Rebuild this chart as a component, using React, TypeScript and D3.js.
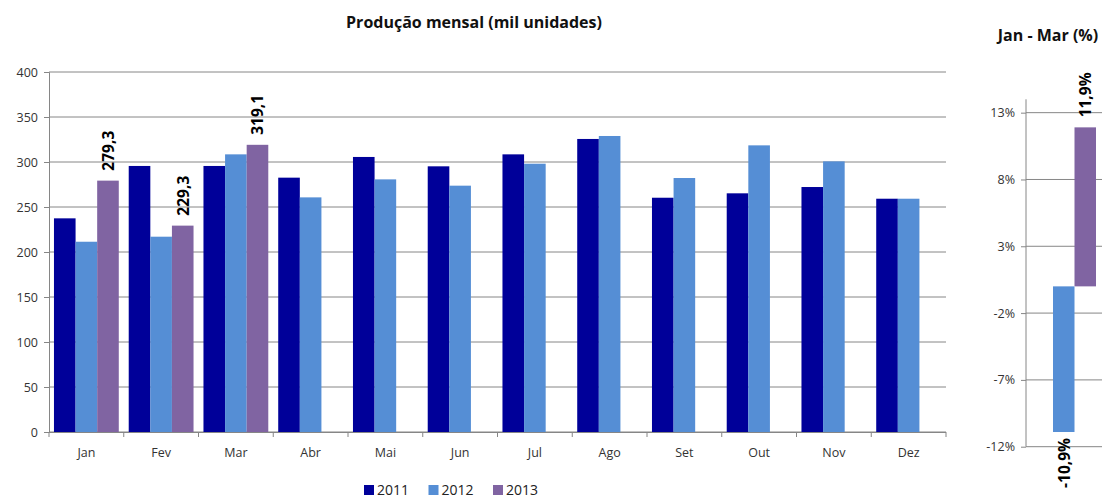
import * as d3 from "d3";
import { useEffect, useRef } from "react";

// monthly production (thousand units)
const months = ["Jan", "Fev", "Mar", "Abr", "Mai", "Jun", "Jul", "Ago", "Set", "Out", "Nov", "Dez"];
const years = ["2011", "2012", "2013"];
const prod2011 = [237.4, 295.6, 295.6, 282.6, 305.6, 295.2, 308.5, 325.6, 260.3, 265.2, 272.2, 259.2];
const prod2012 = [211.4, 217.0, 308.5, 260.7, 280.7, 273.7, 298.1, 328.9, 282.2, 318.5, 300.7, 259.2];
const prod2013 = [279.3, 229.3, 319.1];
const yTicks = [0, 50, 100, 150, 200, 250, 300, 350, 400];

// Jan - Mar change (%)
const pctSeries = ["2012", "2013"];
const pctValues = [-10.9, 11.9];
const pctTicks = [-12, -7, -2, 3, 8, 13];

const colors = { "2011": "#000099", "2012": "#558ed5", "2013": "#8064a2" };
const FONT = "'Open Sans', sans-serif";

const App = () => {
  const svgRef = useRef(null);

  useEffect(() => {
    const svg = d3.select(svgRef.current);
    svg.selectAll("*").remove();

    const rows = months.map((m, i) => ({
      month: m,
      values: [
        { year: "2011", v: prod2011[i] },
        { year: "2012", v: prod2012[i] },
        { year: "2013", v: prod2013[i] },
      ].filter((d) => d.v !== undefined),
    }));

    // ---------- main chart ----------
    const x = d3.scaleBand().domain(months).range([49, 946]).padding(0);
    const xi = d3.scaleBand().domain(years).range([0, x.bandwidth()]).paddingInner(0).paddingOuter(0.23);
    const y = d3.scaleLinear().domain([0, 400]).range([432, 72]);

    // gridlines
    svg
      .append("g")
      .selectAll("line")
      .data(yTicks)
      .enter()
      .append("line")
      .attr("x1", 49)
      .attr("x2", 946)
      .attr("y1", (d) => y(d))
      .attr("y2", (d) => y(d))
      .attr("stroke", "#868686")
      .attr("stroke-width", 1);

    // y axis
    const yAxis = svg
      .append("g")
      .attr("transform", "translate(49,0)")
      .call(d3.axisLeft(y).tickValues(yTicks).tickSize(5).tickPadding(6));
    yAxis.select(".domain").attr("stroke", "#868686");
    yAxis.selectAll(".tick line").attr("stroke", "#868686");
    yAxis.selectAll("text").attr("font-family", FONT).attr("font-size", 12.5).attr("fill", "#333");

    // x axis
    const xAxis = svg
      .append("g")
      .attr("transform", "translate(0,432)")
      .call(d3.axisBottom(x).tickSize(0).tickPadding(16));
    xAxis.select(".domain").remove();
    xAxis.selectAll("text").attr("font-family", FONT).attr("font-size", 12.5).attr("fill", "#333");
    // tick marks at band boundaries
    svg
      .append("g")
      .selectAll("line")
      .data([...months.map((m) => x(m)), 946])
      .enter()
      .append("line")
      .attr("x1", (d) => d)
      .attr("x2", (d) => d)
      .attr("y1", 432)
      .attr("y2", 437)
      .attr("stroke", "#868686");
    svg.append("line").attr("x1", 49).attr("x2", 946).attr("y1", 432.5).attr("y2", 432.5).attr("stroke", "#868686");

    // bars
    const groups = svg
      .append("g")
      .selectAll("g")
      .data(rows)
      .enter()
      .append("g")
      .attr("transform", (d) => `translate(${x(d.month)},0)`);

    groups
      .selectAll("rect")
      .data((d) => d.values)
      .enter()
      .append("rect")
      .attr("x", (d) => xi(d.year))
      .attr("y", (d) => y(d.v))
      .attr("width", xi.bandwidth())
      .attr("height", (d) => y(0) - y(d.v))
      .attr("fill", (d) => colors[d.year]);

    // 2013 value labels (rotated)
    svg
      .append("g")
      .selectAll("text")
      .data(prod2013)
      .enter()
      .append("text")
      .attr("transform", (d, i) => `translate(${x(months[i]) + xi("2013") + xi.bandwidth() / 2 + 6},${y(d) - 10}) rotate(-90)`)
      .attr("font-family", FONT)
      .attr("font-size", 15.5)
      .attr("font-weight", "bold")
      .attr("fill", "#000")
      .text((d) => d.toFixed(1).replace(".", ","));

    // title
    svg
      .append("text")
      .attr("x", 474)
      .attr("y", 28)
      .attr("text-anchor", "middle")
      .attr("font-family", FONT)
      .attr("font-size", 16)
      .attr("font-weight", "bold")
      .attr("fill", "#111")
      .text("Produção mensal (mil unidades)");

    // legend
    const legend = svg
      .append("g")
      .selectAll("g")
      .data(years)
      .enter()
      .append("g")
      .attr("transform", (d, i) => `translate(${364 + i * 64.5},485)`);
    legend.append("rect").attr("width", 10).attr("height", 10).attr("fill", (d) => colors[d]);
    legend
      .append("text")
      .attr("x", 13)
      .attr("y", 10)
      .attr("font-family", FONT)
      .attr("font-size", 14)
      .attr("fill", "#222")
      .text((d) => d);

    // ---------- right panel ----------
    const y2 = d3.scaleLinear().domain([-12, 14]).range([446.7, 99.3]);
    const x2 = d3.scaleBand().domain(pctSeries).range([1053, 1096]).padding(0);

    svg
      .append("g")
      .selectAll("line")
      .data(pctTicks)
      .enter()
      .append("line")
      .attr("x1", 1026)
      .attr("x2", 1102)
      .attr("y1", (d) => y2(d))
      .attr("y2", (d) => y2(d))
      .attr("stroke", "#868686");

    const y2Axis = svg
      .append("g")
      .attr("transform", "translate(1026,0)")
      .call(d3.axisLeft(y2).tickValues(pctTicks).tickSize(5).tickPadding(6).tickFormat((d) => `${d}%`));
    y2Axis.select(".domain").attr("stroke", "#868686").attr("d", `M0,${y2(14)}V${y2(-12)}`);
    y2Axis.selectAll(".tick line").attr("stroke", "#868686");
    y2Axis.selectAll("text").attr("font-family", FONT).attr("font-size", 12.5).attr("fill", "#333");

    svg
      .append("g")
      .selectAll("rect")
      .data(pctValues)
      .enter()
      .append("rect")
      .attr("x", (d, i) => x2(pctSeries[i]))
      .attr("y", (d) => y2(Math.max(0, d)))
      .attr("width", x2.bandwidth())
      .attr("height", (d) => Math.abs(y2(d) - y2(0)))
      .attr("fill", (d, i) => colors[pctSeries[i]]);

    svg
      .append("g")
      .selectAll("text")
      .data(pctValues)
      .enter()
      .append("text")
      .attr("transform", (d, i) => {
        const cx = x2(pctSeries[i]) + x2.bandwidth() / 2 + 6;
        const cy = d < 0 ? y2(d) + 6 : y2(d) - 10;
        return `translate(${cx},${cy}) rotate(-90)`;
      })
      .attr("text-anchor", (d) => (d < 0 ? "end" : "start"))
      .attr("font-family", FONT)
      .attr("font-size", 15.5)
      .attr("font-weight", "bold")
      .attr("fill", "#000")
      .text((d) => d.toFixed(1).replace(".", ",") + "%");

    svg
      .append("text")
      .attr("x", 1048)
      .attr("y", 41)
      .attr("text-anchor", "middle")
      .attr("font-family", FONT)
      .attr("font-size", 16)
      .attr("font-weight", "bold")
      .attr("fill", "#111")
      .text("Jan - Mar (%)");
  }, []);

  return (
    <svg
      ref={svgRef}
      width={1102}
      height={498}
      style={{ position: "absolute", left: 0, top: 0, background: "white" }}
    />
  );
};

export default App;
